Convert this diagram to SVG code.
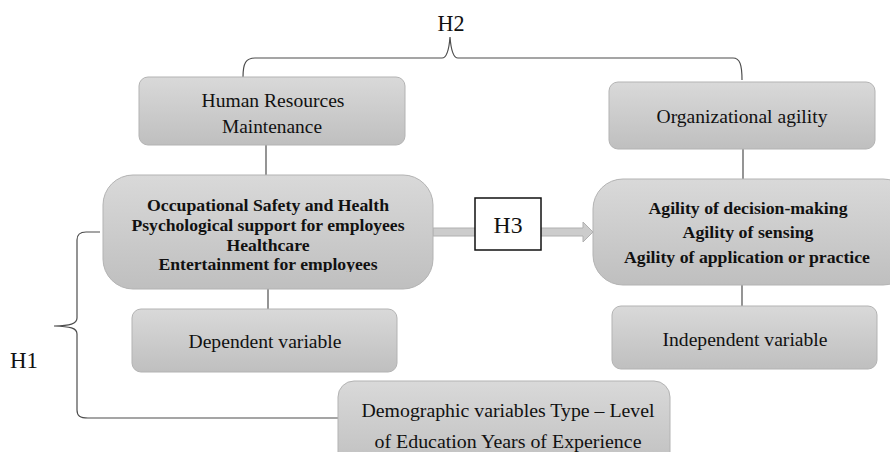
<svg xmlns="http://www.w3.org/2000/svg" width="890" height="452" viewBox="0 0 890 452">
<defs>
<linearGradient id="g" x1="0" y1="0" x2="0" y2="1">
<stop offset="0" stop-color="#d9d9d9"/>
<stop offset="1" stop-color="#bfbfbf"/>
</linearGradient>
<clipPath id="occClip"><rect x="103" y="175" width="330" height="97"/></clipPath>
</defs>
<style>
.box{fill:url(#g);stroke:#b3b3b3;stroke-width:1}
.t{font-family:"Liberation Serif","Times New Roman",serif;font-size:19px;fill:#111;text-anchor:middle}
.b{font-family:"Liberation Serif","Times New Roman",serif;font-size:16px;font-weight:bold;fill:#111;text-anchor:middle}
.h{font-family:"Liberation Serif","Times New Roman",serif;font-size:23px;fill:#111;text-anchor:middle}
.ln{fill:none;stroke:#4d4d4d;stroke-width:1.2}
</style>
<rect width="890" height="452" fill="#fff"/>

<g id="connectors">
<path class="ln" d="M243,77 C243,63 246,58 255,58 L442,58 C447,58 449,50 450,37 C451,50 453,58 458,58 L733,58 C740,58 742,65 742,80"/>
<path class="ln" d="M100,232 L86,232 C80,232 77,234 77,240 L77,318 C77,324 70,325.5 54,326 C70,326.5 77,328 77,334 L77,410 C77,416 80,418 88,418 L340,418"/>
<line class="ln" x1="266" y1="145" x2="266" y2="176"/>
<line class="ln" x1="268" y1="289" x2="268" y2="310"/>
<line class="ln" x1="743" y1="149" x2="743" y2="180"/>
<line class="ln" x1="742" y1="285" x2="742" y2="307"/>
<path d="M433,228 L583,228 L583,222 L593,232 L583,242 L583,236 L433,236 Z" fill="#cccccc" stroke="#b0b0b0" stroke-width="1"/>
</g>

<g id="h2"><text class="h" x="451" y="31" textLength="27" lengthAdjust="spacingAndGlyphs">H2</text></g>
<g id="h1"><text class="h" x="24" y="368" textLength="28" lengthAdjust="spacingAndGlyphs">H1</text></g>

<g id="hr">
<rect class="box" x="139" y="77" width="266" height="68" rx="9"/>
<text class="t" x="273" y="107" textLength="143" lengthAdjust="spacingAndGlyphs">Human Resources</text>
<text class="t" x="272" y="133" textLength="100" lengthAdjust="spacingAndGlyphs">Maintenance</text>
</g>

<g id="occupational">
<rect class="box" x="103" y="175" width="330" height="114" rx="30"/>
<g clip-path="url(#occClip)">
<text class="b" x="268" y="211" textLength="242" lengthAdjust="spacingAndGlyphs">Occupational Safety and Health</text>
<text class="b" x="268" y="231" textLength="273" lengthAdjust="spacingAndGlyphs">Psychological support for employees</text>
<text class="b" x="268" y="251" textLength="83" lengthAdjust="spacingAndGlyphs">Healthcare</text>
<text class="b" x="268" y="270" textLength="219" lengthAdjust="spacingAndGlyphs">Entertainment for employees</text>
</g>
</g>

<g id="dependent">
<rect class="box" x="132" y="309" width="265" height="63" rx="9"/>
<text class="t" x="265" y="348" textLength="153" lengthAdjust="spacingAndGlyphs">Dependent variable</text>
</g>

<g id="org">
<rect class="box" x="609" y="82" width="266" height="67" rx="9"/>
<text class="t" x="742" y="123" textLength="171" lengthAdjust="spacingAndGlyphs">Organizational agility</text>
</g>

<g id="agility">
<rect class="box" x="593" y="179" width="320" height="106" rx="30"/>
<text class="b" x="748" y="214" textLength="199" lengthAdjust="spacingAndGlyphs">Agility of decision-making</text>
<text class="b" x="748" y="238" textLength="131" lengthAdjust="spacingAndGlyphs">Agility of sensing</text>
<text class="b" x="747" y="263" textLength="246" lengthAdjust="spacingAndGlyphs">Agility of application or practice</text>
</g>

<g id="independent">
<rect class="box" x="612" y="306" width="265" height="63" rx="9"/>
<text class="t" x="745" y="346" textLength="165" lengthAdjust="spacingAndGlyphs">Independent variable</text>
</g>

<g id="h3">
<rect x="475" y="198" width="66" height="52" fill="#fff" stroke="#111" stroke-width="1.5"/>
<text class="h" x="508" y="233" font-size="26" textLength="29" lengthAdjust="spacingAndGlyphs">H3</text>
</g>

<g id="demographic">
<rect class="box" x="338" y="381" width="332" height="90" rx="16"/>
<text class="t" x="508" y="417" font-size="21" textLength="293" lengthAdjust="spacingAndGlyphs">Demographic variables Type – Level</text>
<text class="t" x="508" y="448" font-size="21" textLength="267" lengthAdjust="spacingAndGlyphs">of Education Years of Experience</text>
</g>
</svg>
